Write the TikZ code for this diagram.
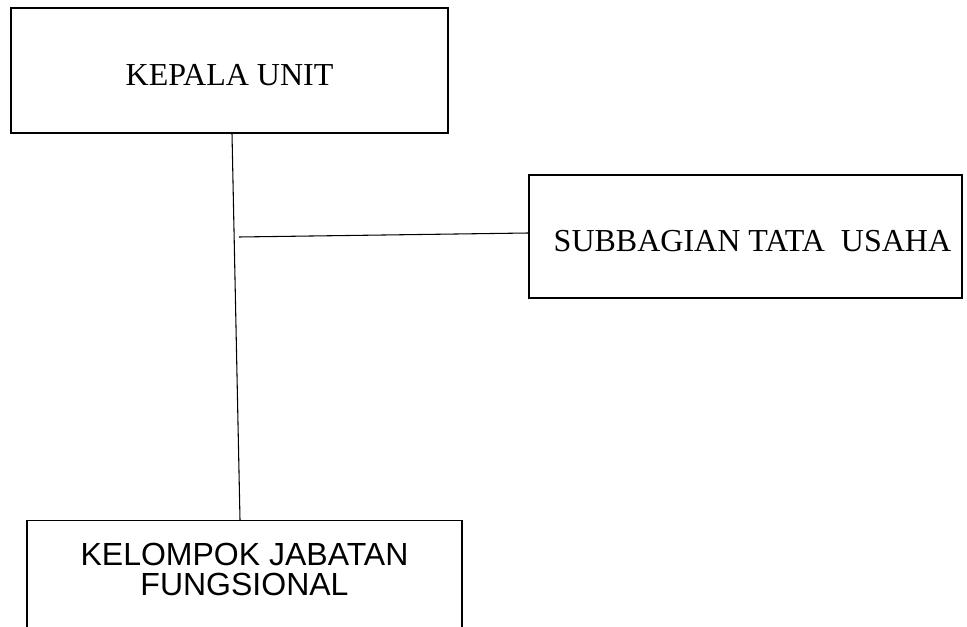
\documentclass[tikz,border=0pt]{standalone}
\usepackage{fontspec}
\setmainfont{Liberation Serif}
\newfontfamily\arialfont{Liberation Sans}
\usepackage{tikz}
\tikzstyle{unit} = [rectangle, draw=black, line width=0.8pt, inner sep=0pt, text height=22.5pt, text depth=0pt, font=\fontsize{24}{29}\selectfont]
\tikzstyle{jabatan} = [rectangle, draw=black, line width=0.8pt, inner sep=0pt, align=center, text height=56.25pt, text depth=150pt, font=\arialfont\fontsize{24}{22.5}\selectfont]
\tikzstyle{conn} = [line width=0.8pt]

\begin{document}
\begin{tikzpicture}[x=0.75pt, y=-0.75pt]
    \useasboundingbox (0,0) rectangle (967,627);
    \clip (0,0) rectangle (967,627);

    % Kepala Unit
    \node[unit, minimum width=327.75pt, minimum height=93.75pt] (kepala) at (229.5,70.5) {KEPALA UNIT};

    % Subbagian Tata Usaha
    \node[unit, minimum width=324.75pt, minimum height=92.25pt] (tu) at (745.5,236.5) {\hspace*{10.5pt}SUBBAGIAN TATA~~USAHA};

    % Kelompok Jabatan Fungsional (cut off at the bottom)
    \node[jabatan, minimum width=326.25pt, anchor=north] (kjf) at (244.5,520) {KELOMPOK JABATAN\\FUNGSIONAL};

    % Lines
    \coordinate (joint) at (239,237);
    \draw[conn] ([xshift=1.875pt]kepala.south) -- ([xshift=-3.375pt]kjf.north);
    \draw[conn] (joint) -- ([yshift=2.625pt]tu.west);
\end{tikzpicture}
\end{document}
